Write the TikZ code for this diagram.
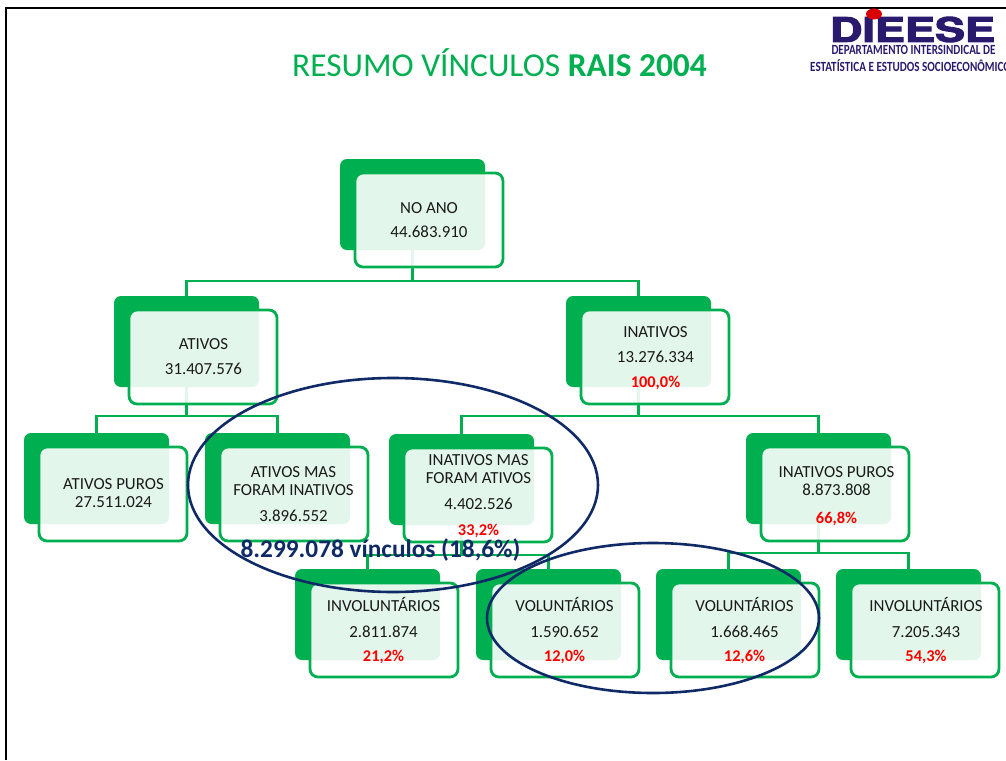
\documentclass[tikz,border=0pt]{standalone}
\usepackage{fontspec}
\setmainfont{Carlito}
\newfontfamily\logofont[FakeBold=3]{TeX Gyre Heros}
\pgfdeclarelayer{fundo}
\pgfsetlayers{fundo,main}
\definecolor{verde}{HTML}{00B050}
\definecolor{marinho}{HTML}{0F2A66}
\definecolor{logoazul}{HTML}{2A1A6E}
\definecolor{texto}{HTML}{1A1A1A}
\tikzset{
  costas/.style={fill=verde,draw=none,rounded corners=7pt,minimum width=145pt,minimum height=91pt,inner sep=0pt,outer sep=0pt},
  frente/.style={draw=verde,line width=2.8pt,fill=white,fill opacity=0.89,rounded corners=8pt,minimum width=148pt,minimum height=94pt,inner sep=0pt,outer sep=0pt},
  conector/.style={draw=verde,line width=2.8pt},
  rotulo/.style={align=center,inner sep=0pt,text=texto,font=\fontsize{16.9pt}{18pt}\selectfont},
  anel/.style={draw=marinho,line width=2.6pt},
  moldura/.style={draw=black,line width=2.2pt}
}
\newcommand{\caixa}[3]{%
  \node[costas] (#1B) at (#2+72.5,#3+45.5) {};
  \node[frente] (#1) at (#2+89,#3+61) {};
}
\newcommand{\pct}[1]{{\color{red}\fontsize{16.4pt}{17pt}\selectfont\bfseries #1}}
\begin{document}
\begin{tikzpicture}[x=1pt,y=-1pt]
\useasboundingbox (0,0) rectangle (1006,760);
\coordinate (mA) at (6,8);
\coordinate (mB) at (6,760);
\coordinate (mC) at (1006,8);
\draw[moldura] (mB) -- (mA) -- (mC);

\node[inner sep=0pt,text=verde,font=\fontsize{33.4pt}{36pt}\selectfont] (titulo) at (499.5,62.5) {RESUMO VÍNCULOS \textbf{RAIS 2004}};

% logo
\node[inner sep=0pt,text=logoazul] (sigla) at (912.5,29.5) {\resizebox{165pt}{25pt}{\logofont\bfseries DIEESE}};
\fill[red!85!black] (874,14) ellipse (8pt and 5.5pt);
\node[inner sep=0pt,text=logoazul,font=\fontsize{14pt}{16pt}\selectfont\bfseries] (logoA) at (913.5,50) {\resizebox{164pt}{\height}{DEPARTAMENTO INTERSINDICAL DE}};
\node[inner sep=0pt,text=logoazul,font=\fontsize{14pt}{16pt}\selectfont\bfseries,anchor=west] (logoB) at (810,66) {\resizebox{206pt}{\height}{ESTATÍSTICA E ESTUDOS SOCIOECONÔMICOS}};

% boxes
\caixa{raiz}{340}{159}
\caixa{ativos}{114}{296}
\caixa{inativos}{566}{296}
\caixa{puros}{24}{433}
\caixa{ativosmas}{205}{433}
\caixa{inativosmas}{389}{434}
\caixa{inpuros}{746}{433}
\caixa{invA}{295}{569}
\caixa{volA}{476}{569}
\caixa{volB}{656}{569}
\caixa{invB}{836}{569}

% connectors
\coordinate (busA) at (0,281);
\coordinate (busB) at (0,416);
\coordinate (busD) at (0,555);
\coordinate (busE) at (0,553);
\begin{pgfonlayer}{fundo}
\draw[conector] (raizB.center) -- (raizB.center |- busA) -| (ativosB.north);
\draw[conector] (raizB.center) -- (raizB.center |- busA) -| (inativosB.north);
\draw[conector] (ativosB.center) -- (ativosB.center |- busB) -| (purosB.north);
\draw[conector] (ativosB.center) -- (ativosB.center |- busB) -| (ativosmasB.north);
\draw[conector] (inativosB.center) -- (inativosB.center |- busB) -| (inativosmasB.north);
\draw[conector] (inativosB.center) -- (inativosB.center |- busB) -| (inpurosB.north);
\draw[conector] (inativosmasB.center) -- (inativosmasB.center |- busD) -| (invAB.north);
\draw[conector] (inativosmasB.center) -- (inativosmasB.center |- busD) -| (volAB.north);
\draw[conector] (inpurosB.center) -- (inpurosB.center |- busE) -| (volBB.north);
\draw[conector] (inpurosB.center) -- (inpurosB.center |- busE) -| (invBB.north);
\end{pgfonlayer}

% labels
\node[rotulo] (tRaiz) at (429,220) {NO ANO\\[6pt]44.683.910};
\node[rotulo] (tAtivos) at (203.5,357) {ATIVOS\\[7pt]31.407.576};
\node[rotulo] (tInativos) at (655.5,358) {INATIVOS\\[7pt]13.276.334\\[7pt]\pct{100,0\%}};
\node[rotulo] (tPuros) at (113.5,493) {ATIVOS PUROS\\27.511.024};
\node[rotulo] (tAtivosmas) at (293.5,494.5) {ATIVOS MAS\\FORAM INATIVOS\\[8pt]3.896.552};
\node[rotulo] (tInativosmas) at (478.5,496.5) {INATIVOS MAS\\FORAM ATIVOS\\[7.5pt]4.402.526\\[8.5pt]\pct{33,2\%}};
\node[rotulo] (tInpuros) at (836.5,496) {INATIVOS PUROS\\8.873.808\\[10pt]\pct{66,8\%}};
\node[rotulo] (tInvA) at (383.5,630.5) {INVOLUNTÁRIOS\\[8pt]2.811.874\\[6pt]\pct{21,2\%}};
\node[rotulo] (tVolA) at (564.5,630.5) {VOLUNTÁRIOS\\[8pt]1.590.652\\[6pt]\pct{12,0\%}};
\node[rotulo] (tVolB) at (744.5,630.5) {VOLUNTÁRIOS\\[8pt]1.668.465\\[6pt]\pct{12,6\%}};
\node[rotulo] (tInvB) at (926,630.5) {INVOLUNTÁRIOS\\[8pt]7.205.343\\[6pt]\pct{54,3\%}};

% rings
\node[inner sep=0pt,text=marinho,font=\fontsize{25.3pt}{27pt}\selectfont\bfseries] (soma) at (380.5,550) {8.299.078 vínculos (18,6\%)};
\draw[anel] (393,485) ellipse (205pt and 107pt);
\draw[anel] (653,618) ellipse (166pt and 75pt);
\end{tikzpicture}
\end{document}
